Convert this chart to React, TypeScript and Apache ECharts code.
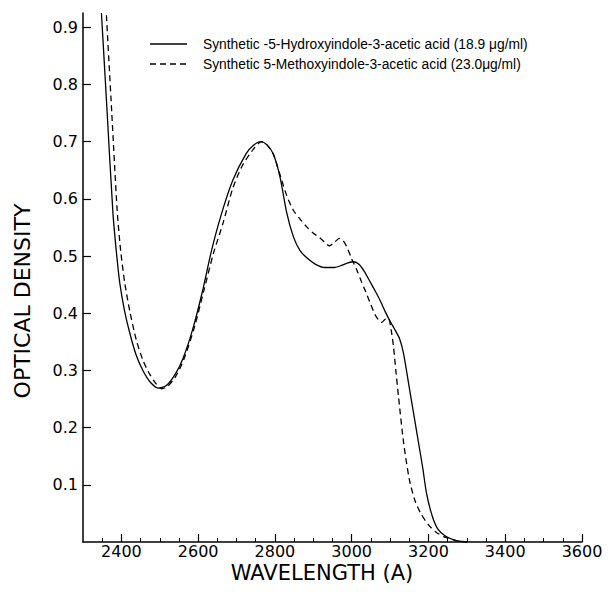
import React, { useEffect, useRef } from "react";
import * as echarts from "echarts";

const seriesNames = [
  "Synthetic -5-Hydroxyindole-3-acetic acid (18.9 μg/ml)",
  "Synthetic 5-Methoxyindole-3-acetic acid (23.0μg/ml)",
];

const hydroxyWavelength = [
  2348, 2362, 2378, 2388, 2396, 2408, 2422, 2438, 2456, 2476, 2498, 2518, 2540,
  2560, 2585, 2610, 2635, 2660, 2690, 2725, 2745, 2763, 2780, 2796, 2813, 2831,
  2848, 2865, 2883, 2905, 2930, 2955, 2975, 2990, 3004, 3018, 3032, 3047, 3062,
  3075, 3088, 3100, 3112, 3125, 3135, 3150, 3170, 3185, 3195, 3210, 3225, 3245,
  3270, 3300,
];
const hydroxyDensity = [
  0.925, 0.762, 0.575, 0.5, 0.452, 0.405, 0.365, 0.328, 0.3, 0.279, 0.269,
  0.274, 0.293, 0.32, 0.37, 0.435, 0.51, 0.572, 0.632, 0.679, 0.694, 0.7, 0.694,
  0.678, 0.639, 0.575, 0.534, 0.51, 0.497, 0.486, 0.48, 0.48, 0.484, 0.488,
  0.49, 0.486, 0.474, 0.456, 0.438, 0.421, 0.402, 0.386, 0.372, 0.355, 0.33,
  0.27, 0.19, 0.13, 0.085, 0.045, 0.022, 0.01, 0.003, 0.0,
];

const methoxyWavelength = [
  2361, 2375, 2389, 2398, 2409, 2423, 2439, 2456, 2474, 2490, 2505, 2520, 2540,
  2562, 2590, 2615, 2640, 2665, 2690, 2715, 2744, 2765, 2780, 2796, 2812, 2830,
  2848, 2865, 2883, 2900, 2917, 2930, 2942, 2955, 2968, 2978, 2988, 3000, 3013,
  3025, 3035, 3050, 3063, 3078, 3088, 3096, 3103, 3109, 3115, 3122, 3135, 3150,
  3165, 3180, 3200, 3220, 3245, 3270, 3300,
];
const methoxyDensity = [
  0.921, 0.75, 0.58, 0.51, 0.452, 0.4, 0.353, 0.318, 0.293, 0.277, 0.268,
  0.272, 0.288, 0.318, 0.375, 0.44, 0.505, 0.558, 0.618, 0.658, 0.687, 0.7,
  0.694, 0.678, 0.645, 0.607, 0.58, 0.565, 0.551, 0.54, 0.532, 0.524, 0.518,
  0.524, 0.531, 0.527, 0.515, 0.495, 0.476, 0.456, 0.44, 0.415, 0.395, 0.384,
  0.39, 0.391, 0.37, 0.341, 0.3, 0.254, 0.175, 0.11, 0.072, 0.05, 0.03, 0.017,
  0.008, 0.003, 0.0,
];

const xMajorTicks = [2400, 2600, 2800, 3000, 3200, 3400, 3600];
const xMinorTicks = [
  2350, 2400, 2450, 2500, 2550, 2600, 2650, 2700, 2750, 2800, 2850, 2900, 2950,
  3000, 3050, 3100, 3150, 3200, 3250, 3300, 3350, 3400, 3450, 3500, 3550, 3600,
];
const yTicks = [0.1, 0.2, 0.3, 0.4, 0.5, 0.6, 0.7, 0.8, 0.9];

const xTitle = "WAVELENGTH (A)";
const yTitle = "OPTICAL DENSITY";

export default function App() {
  const ref = useRef<HTMLDivElement>(null);

  useEffect(() => {
    const chart = echarts.init(ref.current as HTMLDivElement, null, {
      renderer: "svg",
    });
    const pair = (xs: number[], ys: number[]) => xs.map((x, i) => [x, ys[i]]);
    const tickFont = {
      color: "#000",
      fontFamily: "DejaVu Sans",
      fontSize: 16,
      lineHeight: 14,
    };
    const legendFont = '13.8px "Liberation Sans"';
    const titleFont = '21px "DejaVu Sans"';

    chart.setOption({
      animation: false,
      backgroundColor: "#ffffff",
      grid: { left: 83, top: 13, right: 26, bottom: 55, containLabel: false },
      xAxis: [
        {
          type: "value",
          min: 2300,
          max: 3600,
          position: "bottom",
          axisLine: { show: true, onZero: false, lineStyle: { color: "#000", width: 1.5 } },
          axisTick: {
            show: true,
            inside: true,
            length: 8,
            customValues: xMajorTicks,
            lineStyle: { color: "#000", width: 1.2 },
          },
          axisLabel: {
            customValues: xMajorTicks,
            margin: 2,
            formatter: (v: number) => String(v),
            ...tickFont,
          },
          splitLine: { show: false },
        },
        {
          type: "value",
          min: 2300,
          max: 3600,
          position: "bottom",
          axisLine: { show: false },
          axisTick: {
            show: true,
            inside: true,
            length: 4,
            customValues: xMinorTicks,
            lineStyle: { color: "#000", width: 1 },
          },
          axisLabel: { show: false },
          splitLine: { show: false },
        },
      ],
      yAxis: {
        type: "value",
        min: 0,
        max: 0.925,
        axisLine: { show: true, onZero: false, lineStyle: { color: "#000", width: 1.5 } },
        axisTick: {
          show: true,
          inside: true,
          length: 8,
          customValues: yTicks,
          lineStyle: { color: "#000", width: 1.2 },
        },
        axisLabel: {
          customValues: yTicks,
          margin: 5,
          formatter: (v: number) => v.toFixed(1),
          ...tickFont,
        },
        splitLine: { show: false },
      },
      graphic: [
        {
          type: "line",
          shape: { x1: 150, y1: 44, x2: 187, y2: 44 },
          style: { stroke: "#000", lineWidth: 1.3 },
        },
        {
          type: "line",
          shape: { x1: 150, y1: 64, x2: 187, y2: 64 },
          style: { stroke: "#000", lineWidth: 1.3, lineDash: [6, 4] },
        },
        {
          type: "text",
          x: 203,
          y: 44,
          style: {
            text: seriesNames[0],
            fill: "#000",
            font: legendFont,
            align: "left",
            verticalAlign: "middle",
          },
        },
        {
          type: "text",
          x: 203,
          y: 64,
          style: {
            text: seriesNames[1],
            fill: "#000",
            font: legendFont,
            align: "left",
            verticalAlign: "middle",
          },
        },
        {
          type: "text",
          x: 322,
          y: 573,
          style: {
            text: xTitle,
            fill: "#000",
            font: titleFont,
            lineHeight: 18,
            align: "center",
            verticalAlign: "middle",
          },
        },
        {
          type: "text",
          x: 22,
          y: 301,
          rotation: Math.PI / 2,
          style: {
            text: yTitle,
            fill: "#000",
            font: '22px "DejaVu Sans"',
            lineHeight: 18,
            align: "center",
            verticalAlign: "middle",
          },
        },
      ],
      series: [
        {
          name: seriesNames[0],
          type: "line",
          xAxisIndex: 0,
          yAxisIndex: 0,
          data: pair(hydroxyWavelength, hydroxyDensity),
          symbol: "none",
          smooth: 0.25,
          lineStyle: { color: "#000", width: 1.3, type: "solid" },
          itemStyle: { color: "#000" },
        },
        {
          name: seriesNames[1],
          type: "line",
          xAxisIndex: 0,
          yAxisIndex: 0,
          data: pair(methoxyWavelength, methoxyDensity),
          symbol: "none",
          smooth: 0.25,
          lineStyle: { color: "#000", width: 1.3, type: [6, 4] },
          itemStyle: { color: "#000" },
        },
      ],
    });

    return () => chart.dispose();
  }, []);

  return (
    <div
      ref={ref}
      style={{ position: "fixed", left: 0, top: 0, width: 608, height: 597, background: "#fff" }}
    />
  );
}
